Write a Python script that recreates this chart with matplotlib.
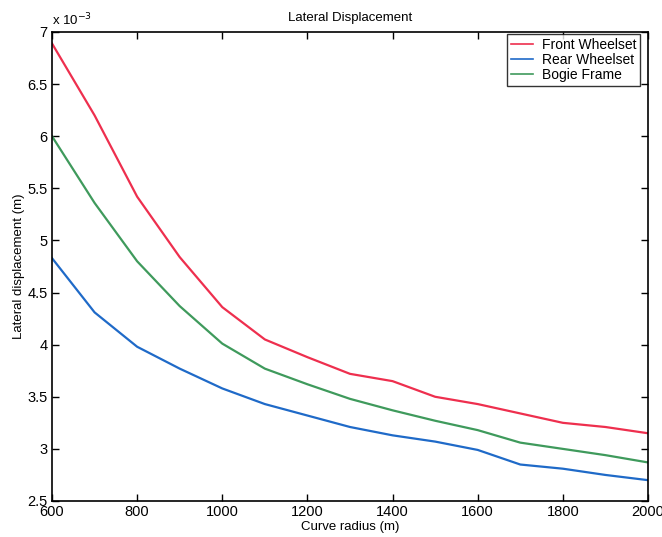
import numpy as np
import matplotlib.pyplot as plt
from matplotlib.ticker import FuncFormatter

plt.rcParams['font.family'] = ['Liberation Sans', 'DejaVu Sans']

# curve radius (m)
radius = [600, 700, 800, 900, 1000, 1100, 1200, 1300, 1400, 1500, 1600, 1700, 1800, 1900, 2000]

# lateral displacement, units of 1e-3 m
front = [6.89, 6.20, 5.42, 4.84, 4.36, 4.05, 3.88, 3.72, 3.65, 3.50, 3.43, 3.34, 3.25, 3.21, 3.15]
rear = [4.83, 4.31, 3.98, 3.77, 3.58, 3.43, 3.32, 3.21, 3.13, 3.07, 2.99, 2.85, 2.81, 2.75, 2.70]
bogie = [6.00, 5.36, 4.80, 4.37, 4.01, 3.77, 3.62, 3.48, 3.37, 3.27, 3.18, 3.06, 3.00, 2.94, 2.87]

labels = ['Front Wheelset', 'Rear Wheelset', 'Bogie Frame']
colors = ['#ee2f4e', '#1f6ac8', '#3f9a5c']

fig = plt.figure(figsize=(6.62, 5.37), dpi=100)
ax = fig.add_axes([52 / 662, 1 - 501 / 537, (648 - 52) / 662, (501 - 32) / 537])

for y, lab, c in zip([front, rear, bogie], labels, colors):
    ax.plot(radius, y, color=c, lw=1.6, label=lab)

ax.set_xlim(600, 2000)
ax.set_ylim(2.5, 7)
ax.set_xticks(np.arange(600, 2001, 200))
ax.set_yticks(np.arange(2.5, 7.01, 0.5))
ax.yaxis.set_major_formatter(FuncFormatter(lambda v, p: '%g' % v))
ax.tick_params(direction='in', top=True, right=True, length=5, width=1,
               labelsize=10.5, pad=3)
for s in ax.spines.values():
    s.set_linewidth(1.2)

ax.set_xlabel('Curve radius (m)', fontsize=9.5, labelpad=1)
ax.set_ylabel('Lateral displacement (m)', fontsize=9.5, labelpad=2)
ax.set_title('Lateral Displacement', fontsize=9.5, pad=8)
ax.text(0, 1.008, 'x 10$^{-3}$', transform=ax.transAxes, fontsize=9.5,
        ha='left', va='bottom')

leg = ax.legend(loc='upper right', bbox_to_anchor=(0.987, 0.996), fontsize=10,
                frameon=True, fancybox=False, borderaxespad=0.0,
                handlelength=1.6, labelspacing=0.08, borderpad=0.3,
                handletextpad=0.6)
leg.get_frame().set_edgecolor('black')
leg.get_frame().set_linewidth(1.0)
for h in leg.get_lines():
    h.set_linewidth(1.2)

fig.savefig('out.png', dpi=100)
